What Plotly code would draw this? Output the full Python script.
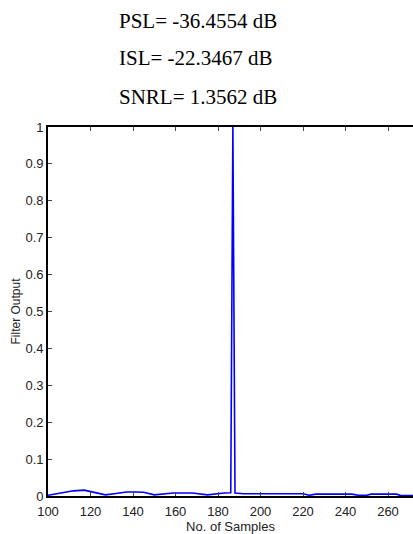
import plotly.graph_objects as go

# Matched-filter output around the main lobe
samples = [100, 104, 108, 112, 117, 122, 127, 132, 137, 141, 145, 150, 154, 159, 163, 168,
           175, 179, 183, 186, 187, 188, 192, 200, 210, 220, 223, 226, 232, 238, 243, 246,
           250, 252, 258, 264, 266, 272]
output = [0.002, 0.006, 0.011, 0.014, 0.016, 0.010, 0.003, 0.007, 0.011, 0.011, 0.010, 0.003,
          0.006, 0.008, 0.008, 0.008, 0.003, 0.006, 0.008, 0.009, 1.0, 0.008, 0.006, 0.006,
          0.006, 0.006, 0.002, 0.005, 0.005, 0.005, 0.005, 0.002, 0.002, 0.005, 0.005, 0.005,
          0.001, 0.001]

metrics = ["PSL= -36.4554 dB", "ISL= -22.3467 dB", "SNRL= 1.3562 dB"]
x_ticks = [100, 120, 140, 160, 180, 200, 220, 240, 260]
y_ticks = [0, 0.1, 0.2, 0.3, 0.4, 0.5, 0.6, 0.7, 0.8, 0.9, 1]

W, H = 413, 534
L, R, T, B = 48, 0, 127, 38
plot_h = H - T - B
plot_w = W - L - R

tick_font = dict(family="Liberation Sans Narrow, Arial Narrow, Liberation Sans, Arial",
                 size=13, color="#222")

fig = go.Figure()
fig.add_trace(go.Scatter(x=samples, y=output, mode="lines",
                         line=dict(color="#0000ff", width=1.6), showlegend=False))

# Three metric lines above the axes, left aligned
line_y = [21, 58, 97]
for text, py in zip(metrics, line_y):
    fig.add_annotation(text=text, xref="paper", yref="paper",
                       x=(117 - L) / plot_w, y=(H - B - py) / plot_h,
                       xanchor="left", yanchor="middle", showarrow=False,
                       font=dict(family="Liberation Serif, Times New Roman, serif",
                                 size=21, color="black"))

fig.update_layout(
    width=W, height=H,
    margin=dict(l=L, r=R, t=T, b=B, pad=0),
    paper_bgcolor="white", plot_bgcolor="white",
    xaxis=dict(range=[100, 100 + plot_w / 2.125], tickvals=x_ticks,
               ticks="inside", ticklen=4, tickcolor="#444", tickwidth=1,
               showline=True, linecolor="black", linewidth=1.6, mirror="ticks",
               showgrid=False, zeroline=False, tickfont=tick_font,
               ticklabelstandoff=3,
               title=dict(text="No. of Samples", font=tick_font, standoff=6)),
    yaxis=dict(range=[0, 1], tickvals=y_ticks, ticktext=[f"{v:g}" for v in y_ticks],
               ticks="inside", ticklen=4, tickcolor="#444", tickwidth=1,
               showline=True, linecolor="black", linewidth=1.6,
               showgrid=False, zeroline=False, tickfont=tick_font,
               title=dict(text="Filter Output",
                          font=dict(family=tick_font["family"], size=12, color="#222"),
                          standoff=2)),
)

fig.write_html("out.html")
